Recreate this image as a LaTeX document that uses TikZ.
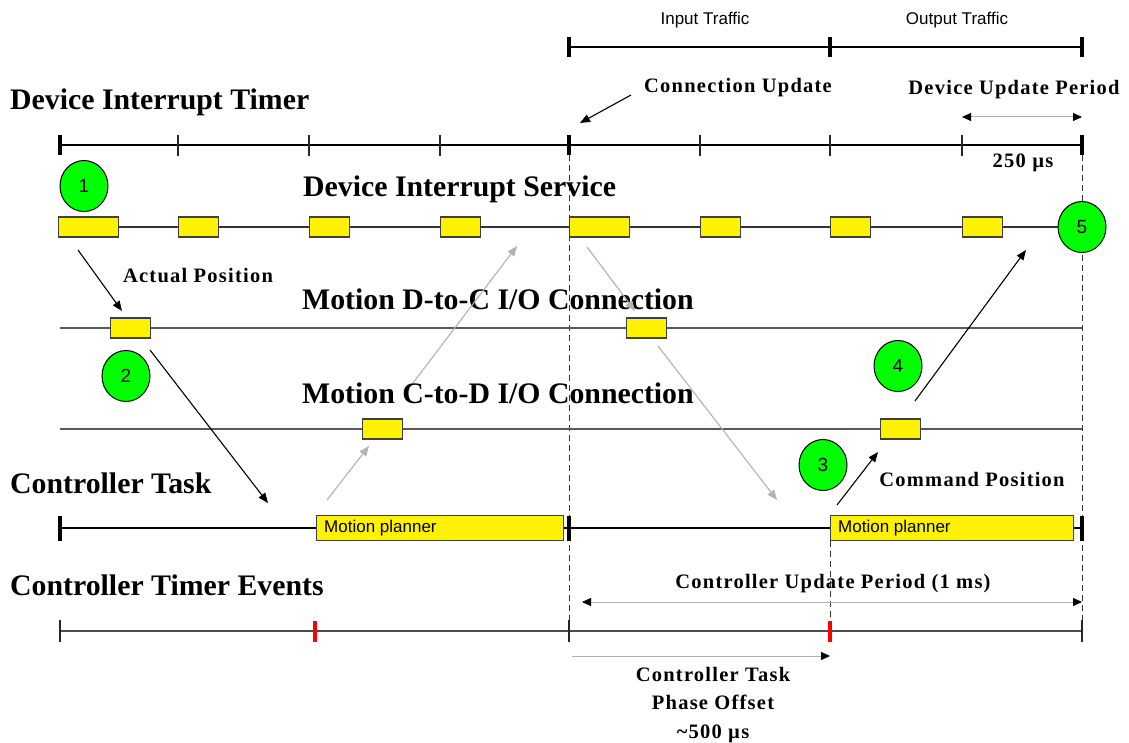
\documentclass[tikz,border=0pt]{standalone}
\usepackage{fontspec}
\setmainfont{Liberation Serif}
\setsansfont{Liberation Sans}
\newfontfamily\trackedserif{Liberation Serif}[LetterSpace=6]
\usetikzlibrary{arrows.meta,shapes.geometric}

\begin{document}
\begin{tikzpicture}[x=1pt,y=-1pt,
  tline/.style={draw=black!80,line width=1.2pt},
  heavytick/.style={draw=black,line width=3.2pt},
  thintick/.style={draw=black!85,line width=1.1pt},
  guide/.style={draw=black!80,line width=0.9pt,dash pattern=on 6pt off 4pt},
  ybox/.style={draw=black!75,fill=yellow,line width=1.1pt,minimum height=20pt,inner sep=0pt,anchor=west},
  planner/.style={ybox,minimum height=25pt},
  redmark/.style={fill=red,draw=none,minimum width=4pt,minimum height=21pt,inner sep=0pt},
  num/.style={ellipse,draw=black,fill=green,line width=1pt,minimum width=48pt,minimum height=51pt,inner sep=0pt,font=\sffamily\fontsize{19}{19}\selectfont},
  title/.style={anchor=base west,inner sep=0pt,font=\bfseries\fontsize{29.8}{32}\selectfont},
  lbl/.style={anchor=base,inner sep=0pt,font=\trackedserif\bfseries\fontsize{20.5}{27}\selectfont},
  traffic/.style={anchor=base,inner sep=0pt,font=\sffamily\fontsize{17}{17}\selectfont},
  ptext/.style={anchor=west,inner sep=0pt,font=\sffamily\fontsize{17}{17}\selectfont},
  blk/.style={draw=black,line width=1.1pt,-{Triangle[length=10pt,width=8pt]}},
  gry/.style={draw=black!30,line width=1.1pt,-{Triangle[length=10pt,width=8pt]}},
  span/.style={draw=black!30,line width=1pt,{Triangle[length=9pt,width=8pt,color=black]}-{Triangle[length=9pt,width=8pt,color=black]}},
  spanr/.style={draw=black!30,line width=1pt,-{Triangle[length=9pt,width=8pt,color=black]}}
]
\fill[white] (0,0) rectangle (1129,743);
\useasboundingbox (0,0) rectangle (1129,743);

% vertical guides
\draw[guide] (569,155) -- (569,642);
\draw[guide] (1082,155) -- (1082,642);
\draw[guide] (830,541) -- (830,642);

% input / output traffic bar
\draw[tline,draw=black] (569,47) -- (1082,47);
\foreach \x in {569,830,1082} \draw[heavytick] (\x,37) -- (\x,57);
\node[traffic] (intraf) at (705,25) {Input Traffic};
\node[traffic] (outtraf) at (957,25) {Output Traffic};

% device interrupt timer
\node[title] (dit) at (10,110) {Device Interrupt Timer};
\draw[tline,draw=black] (60,145) -- (1082,145);
\foreach \x in {60,569,1082} \draw[heavytick] (\x,135) -- (\x,155);
\foreach \x in {178,309,440,700,830,962} \draw[thintick] (\x,135) -- (\x,156);
\node[lbl] (cu) at (738,93) {Connection Update};
\node[lbl] (dup) at (1014,95) {Device Update Period};
\coordinate (dupL) at (962,117);
\coordinate (dupR) at (1082,117);
\draw[span] (dupL) -- (dupR);
\node[lbl] (us250) at (1023,168) {250 µs};
\coordinate (cuA) at (631,95);
\coordinate (cuB) at (580,123);
\draw[blk] (cuA) -- (cuB);

% device interrupt service
\node[title] (dis) at (303,197) {Device Interrupt Service};
\node[num] (c5) at (1082,227) {5};
\draw[tline] (60,227) -- (c5.west);
\node[ybox,minimum width=60pt] (s1) at (58,227) {};
\node[ybox,minimum width=40pt] (s2) at (178,227) {};
\node[ybox,minimum width=40pt] (s3) at (309,227) {};
\node[ybox,minimum width=40pt] (s4) at (440,227) {};
\node[ybox,minimum width=60pt] (s5) at (569,227) {};
\node[ybox,minimum width=40pt] (s6) at (700,227) {};
\node[ybox,minimum width=40pt] (s7) at (830,227) {};
\node[ybox,minimum width=40pt] (s8) at (962,227) {};

% motion D-to-C connection
\node[title] (dtc) at (302,309) {Motion D-to-C I/O Connection};
\draw[tline,draw=black!65] (60,328) -- (1082,328);
\node[ybox,minimum width=40pt] (d1) at (110,328) {};
\node[ybox,minimum width=40pt] (d2) at (626,328) {};
\node[lbl] (apos) at (198,283) {Actual Position};

% motion C-to-D connection
\node[title] (ctd) at (302,403) {Motion C-to-D I/O Connection};
\draw[tline,draw=black!65] (60,429) -- (1082,429);
\node[ybox,minimum width=40pt] (k1) at (362,429) {};
\node[ybox,minimum width=40pt] (k2) at (880,429) {};
\node[lbl] (cpos) at (972,486) {Command Position};

% controller task
\node[title] (ct) at (10,493) {Controller Task};
\draw[tline,draw=black] (60,528) -- (1082,528);
\node[planner,minimum width=247pt] (mp1) at (316,528) {};
\node[ptext] (mp1t) at ([xshift=8pt]mp1.west) {Motion planner};
\node[planner,minimum width=243pt] (mp2) at (830,528) {};
\node[ptext] (mp2t) at ([xshift=8pt]mp2.west) {Motion planner};
\foreach \x in {60,569,1082} \draw[heavytick] (\x,516) -- (\x,541);

% controller timer events
\node[title] (cte) at (10,595) {Controller Timer Events};
\draw[tline,draw=black!70] (60,631) -- (1082,631);
\foreach \x in {60,569,1082} \draw[thintick] (\x,620) -- (\x,642);
\node[redmark] (ev1) at (315,631) {};
\node[redmark] (ev2) at (830,631) {};
\node[lbl] (cup) at (833,588) {Controller Update Period (1 ms)};
\coordinate (cupL) at (582,602);
\coordinate (cupR) at (1082,602);
\draw[span] (cupL) -- (cupR);
\coordinate (phL) at (572,656);
\draw[spanr] (phL) -- (ev2.center |- phL);
\node[lbl] (phase) at (713,681) {Controller Task};
\node[lbl] (phase2) at (713,709) {Phase Offset};
\node[lbl] (phase3) at (713,738) {\textasciitilde500 µs};

% step markers
\node[num] (c1) at (84,186) {1};
\node[num] (c2) at (126,376) {2};
\node[num] (c3) at (823,465) {3};
\node[num] (c4) at (898,366) {4};

% data flow, black path
\coordinate (a1) at (78,250);
\coordinate (a2) at (122,311);
\draw[blk] (a1) -- (a2);
\coordinate (b1) at (150,350);
\coordinate (b2) at (268,503);
\draw[blk] (b1) -- (b2);
\coordinate (e1) at (837,505);
\coordinate (e2) at (878,452);
\draw[blk] (e1) -- (e2);
\coordinate (f1) at (915,401);
\coordinate (f2) at (1026,250);
\draw[blk] (f1) -- (f2);

% data flow, grey path
\coordinate (g1) at (327,500);
\coordinate (g2) at (369,446);
\draw[gry] (g1) -- (g2);
\coordinate (h1) at (413,383);
\coordinate (h2) at (517,246);
\draw[gry] (h1) -- (h2);
\coordinate (i1) at (587,247);
\coordinate (i2) at (635,311);
\draw[gry] (i1) -- (i2);
\coordinate (j1) at (658,346);
\coordinate (j2) at (777,500);
\draw[gry] (j1) -- (j2);
\end{tikzpicture}
\end{document}
